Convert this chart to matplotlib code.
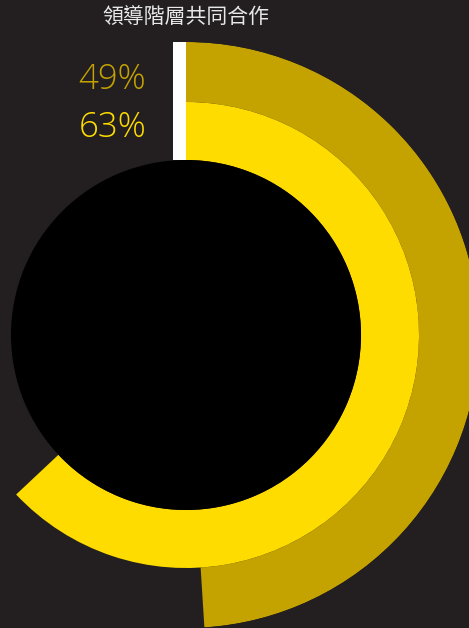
import numpy as np
import matplotlib.pyplot as plt
from matplotlib.patches import Rectangle

# data
title = '領導階層共同合作'
labels = ['49%', '63%']
values = [0.49, 0.63]
colors = ['#c4a300', '#ffdc00']

bg = '#231f20'
W, H = 469, 628
cx, cy = 186, 335          # ring centre, pixels from top
r_out = 293

fig = plt.figure(figsize=(W / 100, H / 100), dpi=100, facecolor=bg)

# polar axes placed so that its centre sits at (cx, cy)
ax = fig.add_axes([(cx - r_out) / W, (H - cy - r_out) / H, 2 * r_out / W, 2 * r_out / H],
                  projection='polar')
ax.set_theta_zero_location('N')
ax.set_theta_direction(-1)
ax.set_ylim(0, r_out)
ax.set_facecolor(bg)
ax.grid(False)
ax.set_xticks([])
ax.set_yticks([])
ax.spines['polar'].set_visible(False)

# rings: outer (49%) then inner (63%)
bottoms = [233, 175]
heights = [60, 58]
for v, c, b, h in zip(values, colors, bottoms, heights):
    ax.bar(0, h, width=v * 2 * np.pi, bottom=b, color=c, align='edge', linewidth=0)

# black centre
ax.bar(0, 175, width=2 * np.pi, bottom=0, color='black', align='edge', linewidth=0)

# white start marker
fig.add_artist(Rectangle((173 / W, (H - 160) / H), 13 / W, 118 / H,
                         transform=fig.transFigure, color='white', linewidth=0))

# title and value labels
fig.text(cx / W, 1 - 18 / H, title, ha='center', va='center', fontsize=15,
         color='#e8e8e8', family=['Noto Sans CJK TC', 'DejaVu Sans'])
label_y = [80, 128]
for lab, c, y in zip(labels, colors, label_y):
    fig.text(146 / W, 1 - y / H, lab, ha='right', va='center', fontsize=25,
             color=c, family=['Open Sans', 'DejaVu Sans'], fontweight='light')

fig.savefig('out.png', dpi=100, facecolor=bg)
